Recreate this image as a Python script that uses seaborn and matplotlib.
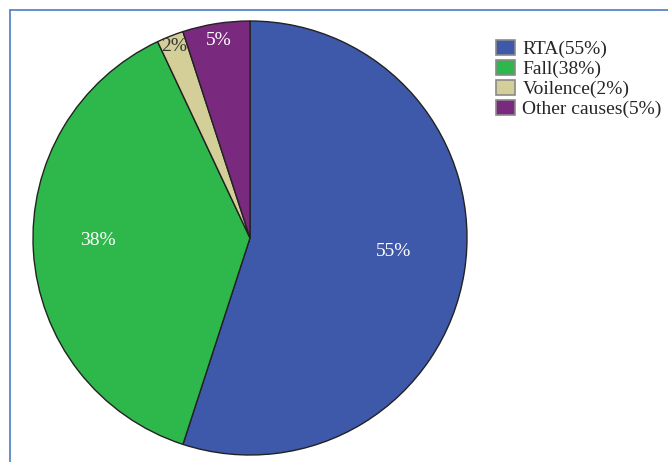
import numpy as np
import matplotlib
matplotlib.use("Agg")
import matplotlib.pyplot as plt
from matplotlib.lines import Line2D
import seaborn as sns

# Causes of injury and their shares (%)
causes = ["RTA", "Fall", "Voilence", "Other causes"]
shares = [55, 38, 2, 5]
legend_labels = ["RTA(55%)", "Fall(38%)", "Voilence(2%)", "Other causes(5%)"]
slice_labels = ["55%", "38%", "2%", "5%"]

sns.set_theme(style="white")
plt.rcParams["font.family"] = ["Liberation Serif", "DejaVu Serif"]

colors = sns.color_palette(["#3e58aa", "#2eb84b", "#d4cf98", "#7a2a7e"])
label_colors = ["white", "white", "#333333", "white"]
# radial distance and angular nudge (degrees) of each percentage label
label_radius = [0.664, 0.703, 0.95, 0.92]
label_shift = [3.5, -2.8, 0.0, 0.0]

W, H = 668, 462
fig = plt.figure(figsize=(W / 100, H / 100), dpi=100)
fig.patch.set_facecolor("white")

# square axes holding the pie (radius 1)
cx, cy, r = 250, 238, 217
ax = fig.add_axes([(cx - r) / W, (H - cy - r) / H, 2 * r / W, 2 * r / H])
wedges, _ = ax.pie(
    shares,
    colors=colors,
    startangle=90,
    counterclock=False,
    radius=1.0,
    wedgeprops=dict(edgecolor="#222222", linewidth=1.0),
)
ax.set_xlim(-1.0, 1.0)
ax.set_ylim(-1.0, 1.0)
ax.set_aspect("equal")
ax.axis("off")

for w, txt, col, rd, sh in zip(wedges, slice_labels, label_colors, label_radius, label_shift):
    mid = np.deg2rad((w.theta1 + w.theta2) / 2 + sh)
    ax.text(rd * np.cos(mid), rd * np.sin(mid), txt, ha="center", va="center",
            fontsize=14, color=col)

handles = [plt.Rectangle((0, 0), 1, 1, facecolor=c, edgecolor="#8a8a8a", linewidth=1.2)
           for c in colors]
fig.legend(handles, legend_labels, loc="upper left",
           bbox_to_anchor=(496 / W, 1 - 40 / H), frameon=False,
           fontsize=14, handlelength=1.0, handleheight=0.78,
           handletextpad=0.36, labelspacing=0.1, borderpad=0, borderaxespad=0)

# thin frame along the top and left edges
frame_col = "#5b87c5"
fig.add_artist(Line2D([9.5 / W, 1.0], [1 - 9.5 / H, 1 - 9.5 / H],
                      transform=fig.transFigure, color=frame_col, linewidth=1.3))
fig.add_artist(Line2D([9.5 / W, 9.5 / W], [0.0, 1 - 9.5 / H],
                      transform=fig.transFigure, color=frame_col, linewidth=1.3))

fig.savefig("out.png", dpi=100)
